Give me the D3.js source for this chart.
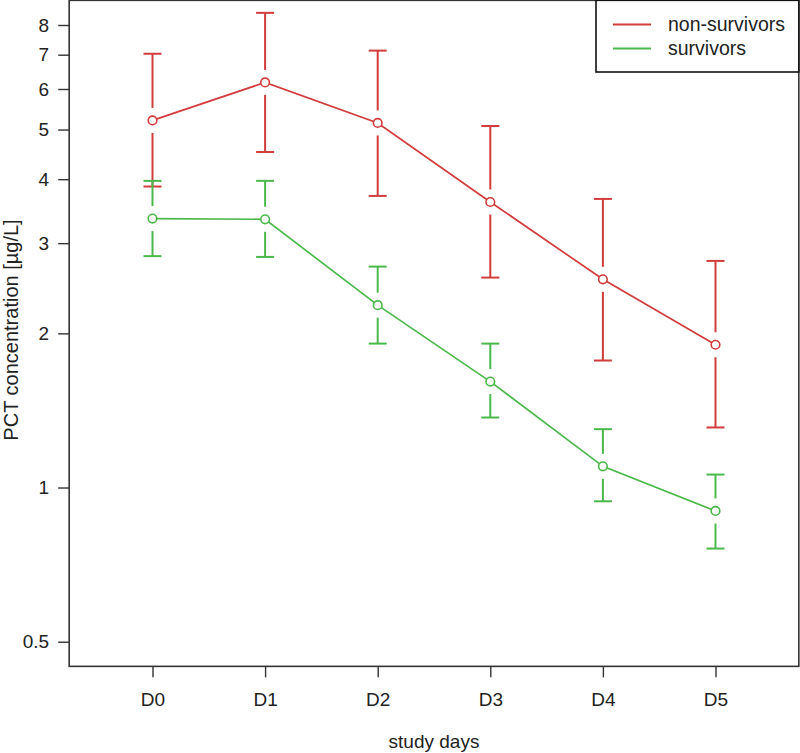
<!DOCTYPE html>
<html>
<head>
<meta charset="utf-8">
<script src="https://cdn.jsdelivr.net/npm/d3@7"></script>
<style>
  html, body { margin: 0; padding: 0; background: #fff; }
  svg { display: block; font-family: "Liberation Sans", Arial, sans-serif; }
</style>
</head>
<body>
<svg id="chart" width="800" height="753"></svg>
<script>
// ---- data ----
const days = ["D0", "D1", "D2", "D3", "D4", "D5"];
const yTicks = [0.5, 1, 2, 3, 4, 5, 6, 7, 8];

const nonSurvMean  = [5.21, 6.18, 5.15, 3.61, 2.55, 1.90];
const nonSurvUpper = [7.03, 8.45, 7.13, 5.08, 3.66, 2.77];
const nonSurvLower = [3.87, 4.52, 3.71, 2.57, 1.77, 1.31];

const survMean  = [3.35, 3.34, 2.27, 1.61, 1.10, 0.90];
const survUpper = [3.97, 3.97, 2.70, 1.91, 1.30, 1.06];
const survLower = [2.83, 2.82, 1.91, 1.37, 0.94, 0.76];

const seriesNames = ["non-survivors", "survivors"];
const colors = ["#d23c3c", "#4cb84c"];

// ---- scales ----
const svg = d3.select("#chart");
const x = d3.scaleLinear().domain([0, 5]).range([152.5, 715.5]);
const y = d3.scaleLog().domain([0.5, 8]).range([641.7, 25]);

const xl = x(-0.74), xr = x(5.74);
const yb = y(0.5 * Math.pow(2, -0.16)), yt = y(8 * Math.pow(2, 0.16));

const axisColor = "#333";
const fs = "19px";

// box
svg.append("rect")
  .attr("x", xl).attr("y", yt)
  .attr("width", xr - xl).attr("height", yb - yt)
  .attr("fill", "none").attr("stroke", axisColor).attr("stroke-width", 1.6);

// y axis
const yAxis = d3.axisLeft(y).tickValues(yTicks).tickSize(11).tickPadding(9)
  .tickFormat(d => String(d));
const gy = svg.append("g").attr("transform", `translate(${xl},0)`).call(yAxis);
gy.select(".domain").remove();
gy.selectAll(".tick line").attr("stroke", axisColor).attr("stroke-width", 1.4);
gy.selectAll(".tick text").attr("fill", "#222").style("font-size", fs)
  .style("font-family", "'Liberation Sans', Arial, sans-serif");

// x axis
const xAxis = d3.axisBottom(x).tickValues(d3.range(days.length)).tickSize(11).tickPadding(6)
  .tickFormat(i => days[i]);
const gx = svg.append("g").attr("transform", `translate(0,${yb})`).call(xAxis);
gx.select(".domain").remove();
gx.selectAll(".tick line").attr("stroke", axisColor).attr("stroke-width", 1.4);
gx.selectAll(".tick text").attr("fill", "#222").style("font-size", fs)
  .style("font-family", "'Liberation Sans', Arial, sans-serif")
  .attr("dy", null).attr("y", 40);

// axis titles
svg.append("text").attr("x", (xl + xr) / 2).attr("y", 748)
  .attr("text-anchor", "middle").attr("fill", "#222").style("font-size", fs)
  .text("study days");
svg.append("text")
  .attr("transform", `translate(18,${330}) rotate(-90)`)
  .attr("text-anchor", "middle").attr("fill", "#222").style("font-size", "20px")
  .text("PCT concentration [µg/L]");

// series
const series = [
  { mean: nonSurvMean, upper: nonSurvUpper, lower: nonSurvLower, color: colors[0] },
  { mean: survMean, upper: survUpper, lower: survLower, color: colors[1] }
];

const gap = 12.5, capHalf = 9;
series.forEach(s => {
  const g = svg.append("g");
  // error bars
  s.mean.forEach((m, i) => {
    const cx = x(i), cy = y(m), yu = y(s.upper[i]), yl = y(s.lower[i]);
    g.append("line").attr("x1", cx).attr("x2", cx).attr("y1", cy - gap).attr("y2", yu)
      .attr("stroke", s.color).attr("stroke-width", 2);
    g.append("line").attr("x1", cx - capHalf).attr("x2", cx + capHalf).attr("y1", yu).attr("y2", yu)
      .attr("stroke", s.color).attr("stroke-width", 2);
    g.append("line").attr("x1", cx).attr("x2", cx).attr("y1", cy + gap).attr("y2", yl)
      .attr("stroke", s.color).attr("stroke-width", 2);
    g.append("line").attr("x1", cx - capHalf).attr("x2", cx + capHalf).attr("y1", yl).attr("y2", yl)
      .attr("stroke", s.color).attr("stroke-width", 2);
  });
  // line
  const line = d3.line().x((d, i) => x(i)).y(d => y(d));
  g.append("path").datum(s.mean).attr("d", line)
    .attr("fill", "none").attr("stroke", s.color).attr("stroke-width", 1.7);
  // points
  g.selectAll("circle").data(s.mean).join("circle")
    .attr("cx", (d, i) => x(i)).attr("cy", d => y(d)).attr("r", 4.3)
    .attr("fill", "#fff").attr("stroke", s.color).attr("stroke-width", 1.6);
});

// legend
const lg = svg.append("g");
lg.append("rect").attr("x", 596).attr("y", yt).attr("width", xr - 596).attr("height", 72 - yt)
  .attr("fill", "#fff").attr("stroke", "#111").attr("stroke-width", 1.6);
seriesNames.forEach((name, i) => {
  const ly = 24.5 + i * 24;
  lg.append("line").attr("x1", 613).attr("x2", 651).attr("y1", ly).attr("y2", ly)
    .attr("stroke", colors[i]).attr("stroke-width", 2.2);
  lg.append("text").attr("x", 668).attr("y", ly + 6.5).attr("fill", "#222")
    .style("font-size", "19.5px").text(name);
});
</script>
</body>
</html>
